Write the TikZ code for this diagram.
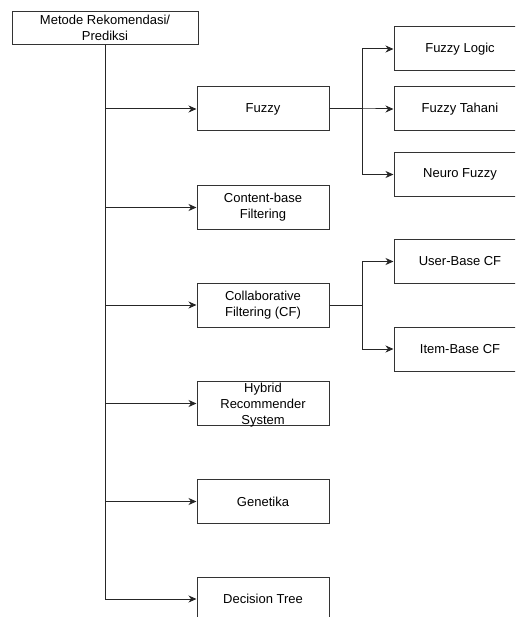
\documentclass[tikz,border=0pt]{standalone}
\usepackage{fontspec}
\setmainfont{Liberation Sans}
\usetikzlibrary{arrows.meta}
\begin{document}
\begin{tikzpicture}[x=1pt,y=-1pt,
  box/.style={draw=black!80, line width=1pt, fill=white, minimum width=132pt, minimum height=44pt, inner sep=0pt, align=center, font=\fontsize{13}{16}\selectfont},
  topbox/.style={box, minimum width=186pt, minimum height=33pt},
  conn/.style={line width=1pt, draw=black!85, -{Stealth[length=8pt,width=7pt,inset=2.5pt]}}]
\useasboundingbox (0,0) rectangle (515,617);
\clip (0,0) rectangle (515,617);
\node[topbox] (root) at (105,28) {Metode Rekomendasi/\\Prediksi};
\node[box] (fz) at (263,109) {Fuzzy};
\node[box] (cb) at (263,207.5) {Content-base\\Filtering};
\node[box] (cf) at (263,305) {Collaborative\\Filtering (CF)};
\node[box] (hy) at (263,403.5) {};
\node[align=center, font=\fontsize{13}{16}\selectfont, inner sep=0pt] (hyt) at (263,405.5) {Hybrid\\Recommender\\System};
\node[box] (ge) at (263,501.5) {Genetika};
\node[box] (dt) at (263,599) {Decision Tree};
\node[box] (fl) at (460,49) {Fuzzy Logic};
\node[box] (ft) at (460,109) {Fuzzy Tahani};
\node[box] (nf) at (460,174.5) {Neuro Fuzzy};
\node[box] (ub) at (460,261.5) {User-Base CF};
\node[box] (ib) at (460,349) {Item-Base CF};
\foreach \t in {fz,cb,cf,hy,ge,dt}
  \draw[conn] (root.south) |- (\t.west);
\foreach \t in {fl,ft,nf}
  \draw[conn] (fz.east) -- ++(33,0) |- (\t.west);
\foreach \t in {ub,ib}
  \draw[conn] (cf.east) -- ++(33,0) |- (\t.west);
\end{tikzpicture}
\end{document}
